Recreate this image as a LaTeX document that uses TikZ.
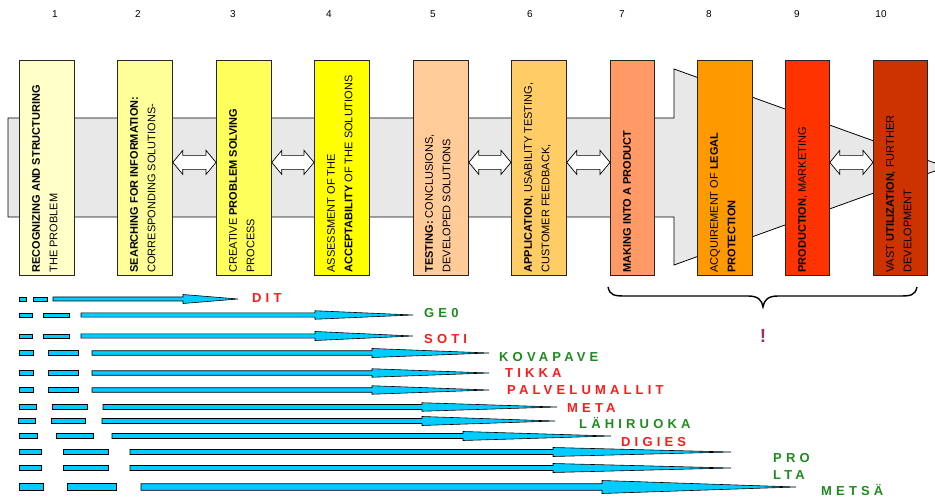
\documentclass[tikz,border=0pt]{standalone}
\usepackage{fontspec}
\setmainfont{Liberation Sans}
\usetikzlibrary{calc}
\definecolor{cA}{HTML}{FFFFC8}
\definecolor{cB}{HTML}{FFFF99}
\definecolor{cC}{HTML}{FFFF5C}
\definecolor{cD}{HTML}{FFFF00}
\definecolor{cE}{HTML}{FFCC99}
\definecolor{cF}{HTML}{FFCC66}
\definecolor{cG}{HTML}{FF9966}
\definecolor{cH}{HTML}{FF9900}
\definecolor{cI}{HTML}{FF3300}
\definecolor{cJ}{HTML}{CC3300}
\definecolor{bandgray}{HTML}{E8E8E8}
\definecolor{barblue}{HTML}{00CCFF}
\definecolor{lred}{HTML}{FF1A1A}
\definecolor{lgreen}{HTML}{1E8B1E}
\definecolor{bang}{HTML}{993366}
\begin{document}
\begin{tikzpicture}[x=1pt,y=-1pt,
  band/.style={draw=black, fill=bandgray, line width=0.8pt},
  stage/.style={draw=black!85, line width=0.8pt, minimum width=55pt, minimum height=215pt, anchor=north west, inner sep=0pt},
  stagetext/.style={rotate=90, anchor=north west, inner sep=0pt, align=left, font=\fontsize{11}{17.5}\selectfont},
  num/.style={anchor=base, inner sep=0pt, font=\fontsize{10}{10}\selectfont},
  dblarrow/.style={draw=black, fill=white, line width=0.7pt},
  bar/.style={draw=black, fill=barblue, line width=0.6pt},
  lbl/.style={anchor=base west, inner sep=0pt, font=\fontsize{13}{13}\selectfont\bfseries\addfontfeatures{LetterSpace=32}},
]
\useasboundingbox (0,0) rectangle (935,497);
\clip (0,0) rectangle (935,497);

% wide process band that opens into an arrow
\draw[band] (8,118) -- (674,118) -- (674,69) -- (946,167) -- (674,265) -- (674,217) -- (8,217) -- cycle;

% stage boxes
\node[stage, fill=cA] (s1) at (19,60) {};
\node[stage, fill=cB] (s2) at (117,60) {};
\node[stage, fill=cC] (s3) at (216,60) {};
\node[stage, fill=cD] (s4) at (314,60) {};
\node[stage, fill=cE] (s5) at (413,60) {};
\node[stage, fill=cF] (s6) at (511,60) {};
\node[stage, fill=cG, minimum width=44pt] (s7) at (610,60) {};
\node[stage, fill=cH] (s8) at (697,60) {};
\node[stage, fill=cI, minimum width=44pt] (s9) at (785,60) {};
\node[stage, fill=cJ, minimum width=54pt] (s10) at (873,60) {};

% stage texts
\node[stagetext] (t1) at ([xshift=13pt,yshift=3pt]s1.south west) {\textbf{RECOGNIZING AND STRUCTURING}\\THE PROBLEM};
\node[stagetext] (t2) at ([xshift=13pt,yshift=3pt]s2.south west) {\textbf{SEARCHING FOR INFORMATION:}\\CORRESPONDING SOLUTIONS-};
\node[stagetext] (t3) at ([xshift=13pt,yshift=3pt]s3.south west) {CREATIVE \textbf{PROBLEM SOLVING}\\PROCESS};
\node[stagetext] (t4) at ([xshift=13pt,yshift=3pt]s4.south west) {ASSESSMENT OF THE\\\textbf{ACCEPTABILITY} OF THE SOLUTIONS};
\node[stagetext] (t5) at ([xshift=12pt,yshift=3pt]s5.south west) {\textbf{TESTING:} CONCLUSIONS,\\DEVELOPED SOLUTIONS};
\node[stagetext] (t6) at ([xshift=13pt,yshift=3pt]s6.south west) {\textbf{APPLICATION}, USABILITY TESTING,\\CUSTOMER FEEDBACK,};
\node[stagetext] (t7) at ([xshift=13pt,yshift=3pt]s7.south west) {\textbf{MAKING INTO A PRODUCT}};
\node[stagetext] (t8) at ([xshift=13pt,yshift=3pt]s8.south west) {ACQUIREMENT OF \textbf{LEGAL}\\\textbf{PROTECTION}};
\node[stagetext] (t9) at ([xshift=13pt,yshift=3pt]s9.south west) {\textbf{PRODUCTION}, MARKETING};
\node[stagetext] (t10) at ([xshift=13pt,yshift=3pt]s10.south west) {VAST \textbf{UTILIZATION}, FURTHER\\DEVELOPMENT};

% step numbers
\foreach \n/\x in {1/55,2/138,3/233,4/329,5/433,6/530,7/622,8/709,9/797,10/881}
  \node[num] (n\n) at (\x,17.5) {\n};

% two-way arrows between neighbouring stages
\newcommand\twoway[2]{%
  \path[dblarrow] let \p1=(#1.east), \p2=(#2.west), \n1={\y1+5.5pt} in
    (\x1,\n1) -- (\x1+10pt,\n1+12pt) -- (\x1+10pt,\n1+7pt) -- (\x2-10pt,\n1+7pt)
    -- (\x2-10pt,\n1+12pt) -- (\x2,\n1) -- (\x2-10pt,\n1-12pt) -- (\x2-10pt,\n1-7pt)
    -- (\x1+10pt,\n1-7pt) -- (\x1+10pt,\n1-12pt) -- cycle;}
\twoway{s2}{s3}
\twoway{s3}{s4}
\twoway{s5}{s6}
\twoway{s6}{s7}
\twoway{s9}{s10}

% project timelines: two dashes, a shaft and a long thin head
\foreach \y/\a/\b/\c/\d/\s/\h/\t/\w/\H/\lab/\col/\lx/\ly [count=\i] in {
  299/19/26/33/47/53/183/238/4/9/DIT/lred/252/302,
  315/19/32/43/69/81/315/413/4.2/8.5/GE0/lgreen/424/318,
  336/19/32/43/69/81/315/413/4.2/9/SOTI/lred/424/343,
  353/19/33/48/78/92/372/489/4.5/9/KOVAPAVE/lgreen/499/361,
  373/19/33/48/78/92/372/489/4.5/8.5/TIKKA/lred/505/377,
  390/19/33/48/78/92/372/489/4.5/8.5/PALVELUMALLIT/lred/507/394,
  407/19/36/52/87/103/422/557/5/8.5/META/lred/567/412,
  421/18/35/51/85/102/422/555/5/9/LÄHIRUOKA/lgreen/579/428,
  436/19/37/56/93/112/463/611/5/9/DIGIES/lred/621/446,
  452/19/41/63/108/130/553/731/5/9/PRO/lgreen/773/462,
  468/19/41/63/108/130/553/731/5/9/LTA/lgreen/773/479,
  487/19/43/67/116/141/602/796/6.5/13/METSÄ/lgreen/821/495.5}
{
  \draw[bar] (\a,{\y-\w/2}) rectangle (\b,{\y+\w/2});
  \draw[bar] (\c,{\y-\w/2}) rectangle (\d,{\y+\w/2});
  \draw[bar] (\s,{\y-\w/2}) -- (\h,{\y-\w/2}) -- (\h,{\y-\H/2}) -- (\t,\y)
    -- (\h,{\y+\H/2}) -- (\h,{\y+\w/2}) -- (\s,{\y+\w/2}) -- cycle;
  \coordinate (tip\i) at (\t,\y);
  \node[lbl, text=\col] (lab\i) at (\lx,\ly) {\lab};
}

% brace under the market stages
\draw[line width=1.4pt] (608,287) .. controls (610,296) and (615,296) .. (627,296)
  -- (748,296) .. controls (758,296) and (762,300) .. (763,307)
  .. controls (764,300) and (768,296) .. (778,296)
  -- (898,296) .. controls (910,296) and (915,296) .. (917,287);
\node[anchor=base, inner sep=0pt, text=bang, font=\fontsize{19}{19}\selectfont\bfseries] (mark) at (763,342) {!};
\end{tikzpicture}
\end{document}
